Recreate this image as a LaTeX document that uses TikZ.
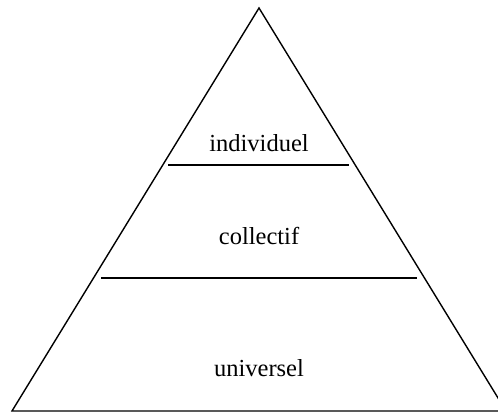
\documentclass[tikz,border=0pt]{standalone}
\usepackage{fontspec}
\setmainfont{Liberation Serif}
\usepackage{tikz}

\begin{document}
\begin{tikzpicture}[x=1pt,y=1pt,line width=1.4pt,
    level/.style={anchor=base,inner sep=0pt,font=\fontsize{24.5}{28}\selectfont}]
    \useasboundingbox (0,0) rectangle (498,414);
    \clip (0,0) rectangle (498,414);

    % Corners of the pyramid
    \coordinate (apex) at (259,406);
    \coordinate (baseL) at (12,3);
    \coordinate (baseR) at (506,3);
    \draw (apex) -- (baseL) -- (baseR) -- cycle;

    % Dividing lines
    \coordinate (upL) at (168,249);
    \coordinate (upR) at (349,249);
    \coordinate (lowL) at (101,136);
    \coordinate (lowR) at (417,136);
    \draw (upL) -- (upR);
    \draw (lowL) -- (lowR);

    \node[level] (indiv) at (259,262) {individuel};
    \node[level] (coll) at (259,169) {collectif};
    \node[level] (univ) at (259,37) {universel};
\end{tikzpicture}
\end{document}
